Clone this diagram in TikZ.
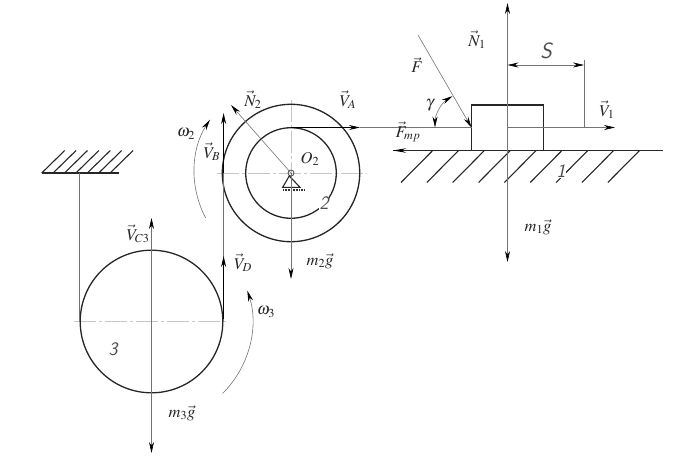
\documentclass[tikz,border=0pt]{standalone}
\usepackage{mathptmx}
\usepackage{tikz}
\usetikzlibrary{arrows.meta}

\begin{document}
\begin{tikzpicture}[
  x=1pt, y=-1pt,
  thin line/.style={line width=0.6pt, black!55},
  body/.style={line width=1.3pt, black!85},
  hatch/.style={line width=1.1pt, black!85},
  axis/.style={line width=0.6pt, black!22, dash pattern=on 22pt off 3pt on 3pt off 3pt},
  tip/.style={-{Stealth[length=11pt,width=5pt,black]}},
  bothtip/.style={{Stealth[length=11pt,width=5pt,black]}-{Stealth[length=11pt,width=5pt,black]}},
  tag/.style={inner sep=0pt, font=\fontsize{16.5}{18}\selectfont, black!85},
  num/.style={inner sep=0.5pt, font=\fontsize{19}{20}\sffamily\itshape, black!70}
]
\useasboundingbox (0,0) rectangle (687,458);
\coordinate (O2) at (291,173);
\coordinate (C3) at (151.5,321.5);
\coordinate (A) at (291,127.5);
\coordinate (B) at (223.6,173);
\coordinate (D) at (223.6,319);
\coordinate (nail) at (79.5,173);
\coordinate (M1) at (507.5,127.5);
% center lines
\draw[axis] (217,173) -- (367,173);
\draw[axis] (291,100) -- (291,173);
\draw[axis] (74,321.5) -- (228,321.5);
% wheels
\draw[body] (O2) circle (68.7);
\draw[body] (O2) circle (45.3);
\draw[body] (C3) circle (71.3);
% ceiling
\draw[body] (41.5,173) -- (119,173);
\foreach \i in {0,...,6}
  \draw[hatch] (41.7+11.4*\i,173) -- ++(23,-22.5);
\draw[thin line] (nail) -- (79.5,321.5);
\draw[thin line] (223,173) -- (223,321.5);
% support
\node (pin) at (O2) [circle, draw, black!70, line width=0.8pt, minimum size=6pt, inner sep=0pt] {};
\draw[hatch] (pin) -- (282.7,187.3) -- (300,187.3) -- cycle;
\draw[line width=2pt, black!80, dash pattern=on 0.8pt off 0.8pt] (283,189.5) -- (305,189.5);
% plane and block
\draw[body] (393,150.5) -- (663,150.5);
\foreach \i in {0,...,8}
  \draw[hatch] (432.7+25.85*\i,150.5) -- ++(-31.7,32);
\draw[body] (471.7,150.5) -- (471.7,105) -- (543.3,105) -- (543.3,150.5);
\draw[-{Stealth[length=13pt,width=4.5pt,black]}, hatch] (420,150.5) -- (393,150.5);
% axes and forces
\draw[thin line, bothtip] (507.5,262) -- (507.5,3);
\draw[thin line, bothtip] (151.5,453) -- (151.5,218);
\draw[thin line, tip] (O2) -- (231,105);
\draw[thin line, tip] (O2) -- (291,279);
\draw[thin line, tip] (418,35) -- (471.5,127.5);
\draw[thin line, tip] (M1) -- (615,127.5);
\draw[thin line] (360,127.5) -- (471.7,127.5);
\draw[line width=1pt, tip] (A) -- (360,127.5);
\draw[line width=0.9pt, tip] (B) -- (223.6,113);
\draw[line width=0.9pt, tip] (D) -- (223.6,256);
% S
\draw[thin line] (584,60) -- (584,127.5);
\draw[thin line, bothtip] (507.5,65) -- (584,65);
% angle and rotation arcs
\draw[thin line, bothtip] (435,127.5) arc[start angle=180, end angle=238, radius=37];
\draw[thin line, tip] (205.7,218) arc[start angle=152, end angle=213, radius=97];
\draw[thin line, tip] (222.7,393.3) arc[start angle=45, end angle=-18, radius=101];
% labels
\node[tag] (n1) at (477,40) {$\vec{N}_1$};
\node[tag] (f) at (417,65) {$\vec{F}$};
\node[tag, font=\fontsize{22}{24}\sffamily\itshape, black!70] (s) at (546,51) {S};
\node[tag] (v1) at (607,110) {$\vec{V}_1$};
\node[tag] (fmp) at (408,132) {$\vec{F}_{mp}$};
\node[tag] (m1g) at (538,227) {$m_1\vec{g}$};
\node[tag] (gam) at (430,105) {$\gamma$};
\node[num, fill=white] (one) at (561,171) {1};
\node[tag] (n2) at (253,100) {$\vec{N}_2$};
\node[tag] (va) at (348,100) {$\vec{V}_A$};
\node[tag] (o2) at (310,159) {$O_2$};
\node[num, fill=white] (two) at (324,203) {2};
\node[tag] (w2) at (186,134) {$\omega_2$};
\node[tag] (vb) at (212,152) {$\vec{V}_B$};
\node[tag] (vd) at (243,263) {$\vec{V}_D$};
\node[tag] (m2g) at (320,261) {$m_2\vec{g}$};
\node[tag] (vc3) at (138,234) {$\vec{V}_{C3}$};
\node[tag] (m3g) at (182,413) {$m_3\vec{g}$};
\node[num] (three) at (113,349) {3};
\node[tag] (w3) at (266,312) {$\omega_3$};
\end{tikzpicture}
\end{document}
